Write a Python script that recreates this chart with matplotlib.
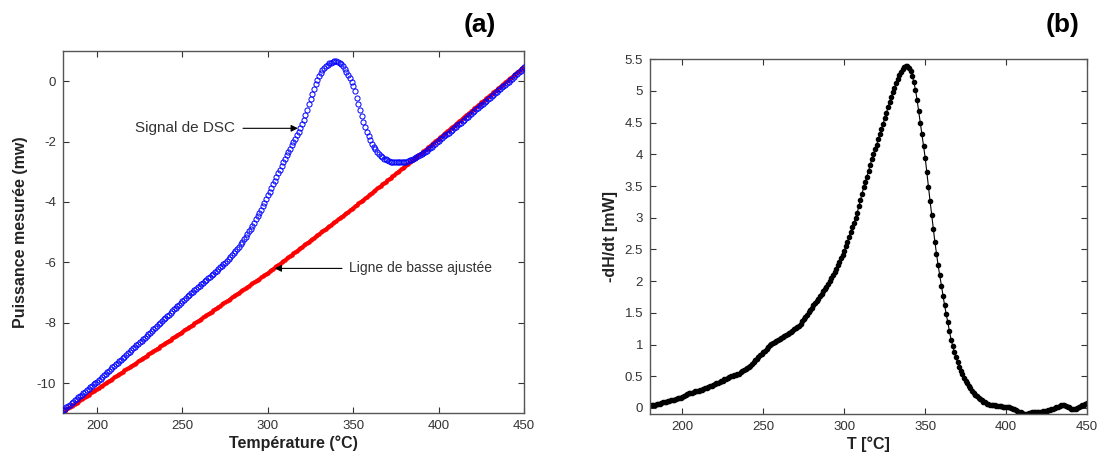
import numpy as np
import matplotlib.pyplot as plt

plt.rcParams['font.family'] = ['Liberation Sans', 'DejaVu Sans']
plt.rcParams['axes.unicode_minus'] = False

# temperature grid (°C), one reading per degree
T = np.arange(180, 451, 1)

# (a) DSC signal (mW), rows of ten degrees starting at 180
dsc = [-10.90, -10.85, -10.80, -10.76, -10.71, -10.66, -10.62, -10.57, -10.52, -10.47,
       -10.42, -10.38, -10.33, -10.28, -10.23, -10.19, -10.14, -10.09, -10.04, -10.00,
       -9.95, -9.90, -9.85, -9.79, -9.74, -9.69, -9.64, -9.59, -9.53, -9.48,
       -9.43, -9.38, -9.32, -9.27, -9.22, -9.17, -9.12, -9.06, -9.01, -8.96,
       -8.91, -8.85, -8.80, -8.75, -8.70, -8.64, -8.59, -8.54, -8.49, -8.43,
       -8.38, -8.33, -8.27, -8.22, -8.16, -8.11, -8.05, -8.00, -7.94, -7.89,
       -7.84, -7.78, -7.73, -7.67, -7.62, -7.56, -7.51, -7.45, -7.40, -7.34,
       -7.29, -7.23, -7.18, -7.13, -7.08, -7.03, -6.98, -6.93, -6.88, -6.83,
       -6.78, -6.73, -6.68, -6.63, -6.58, -6.53, -6.48, -6.43, -6.38, -6.32,
       -6.27, -6.22, -6.17, -6.12, -6.06, -6.01, -5.95, -5.89, -5.83, -5.77,
       -5.70, -5.63, -5.56, -5.48, -5.40, -5.32, -5.24, -5.15, -5.06, -4.97,
       -4.88, -4.78, -4.68, -4.58, -4.47, -4.36, -4.25, -4.14, -4.02, -3.90,
       -3.78, -3.66, -3.54, -3.42, -3.30, -3.18, -3.05, -2.93, -2.80, -2.68,
       -2.56, -2.45, -2.34, -2.23, -2.12, -2.01, -1.90, -1.79, -1.67, -1.55,
       -1.42, -1.27, -1.11, -0.94, -0.77, -0.60, -0.43, -0.26, -0.10, 0.04,
       0.16, 0.27, 0.36, 0.44, 0.50, 0.55, 0.59, 0.62, 0.64, 0.66,
       0.66, 0.65, 0.62, 0.57, 0.50, 0.42, 0.32, 0.21, 0.10, -0.02,
       -0.16, -0.34, -0.54, -0.75, -0.96, -1.16, -1.35, -1.52, -1.68, -1.82,
       -1.95, -2.07, -2.17, -2.26, -2.34, -2.41, -2.47, -2.52, -2.56, -2.59,
       -2.62, -2.64, -2.66, -2.67, -2.68, -2.69, -2.69, -2.69, -2.69, -2.68,
       -2.67, -2.66, -2.64, -2.62, -2.60, -2.57, -2.54, -2.51, -2.48, -2.44,
       -2.42, -2.38, -2.34, -2.30, -2.26, -2.21, -2.17, -2.12, -2.07, -2.02,
       -1.98, -1.93, -1.88, -1.83, -1.79, -1.75, -1.70, -1.65, -1.60, -1.56,
       -1.51, -1.46, -1.41, -1.37, -1.32, -1.27, -1.22, -1.17, -1.12, -1.08,
       -1.03, -0.98, -0.93, -0.88, -0.83, -0.78, -0.74, -0.69, -0.64, -0.59,
       -0.54, -0.49, -0.44, -0.39, -0.35, -0.30, -0.25, -0.20, -0.16, -0.11,
       -0.06, -0.01, 0.04, 0.09, 0.14, 0.19, 0.24, 0.30, 0.35, 0.41,
       0.48]

# (a) fitted baseline (mW)
baseline = [-10.95, -10.91, -10.87, -10.84, -10.80, -10.76, -10.72, -10.68, -10.65, -10.61,
            -10.57, -10.53, -10.49, -10.46, -10.42, -10.38, -10.34, -10.30, -10.27, -10.23,
            -10.19, -10.15, -10.11, -10.08, -10.04, -10.00, -9.96, -9.92, -9.89, -9.85,
            -9.81, -9.77, -9.73, -9.70, -9.66, -9.62, -9.58, -9.54, -9.51, -9.47,
            -9.43, -9.39, -9.35, -9.32, -9.28, -9.24, -9.20, -9.16, -9.13, -9.09,
            -9.05, -9.01, -8.97, -8.94, -8.90, -8.86, -8.82, -8.78, -8.75, -8.71,
            -8.67, -8.63, -8.59, -8.56, -8.52, -8.48, -8.44, -8.40, -8.37, -8.33,
            -8.29, -8.25, -8.21, -8.17, -8.13, -8.10, -8.06, -8.02, -7.98, -7.94,
            -7.90, -7.86, -7.82, -7.78, -7.74, -7.71, -7.67, -7.63, -7.59, -7.55,
            -7.51, -7.47, -7.43, -7.39, -7.35, -7.32, -7.28, -7.24, -7.20, -7.16,
            -7.12, -7.08, -7.04, -7.00, -6.96, -6.93, -6.89, -6.85, -6.81, -6.77,
            -6.73, -6.69, -6.65, -6.61, -6.57, -6.54, -6.50, -6.46, -6.42, -6.38,
            -6.34, -6.30, -6.25, -6.21, -6.17, -6.12, -6.08, -6.04, -6.00, -5.95,
            -5.91, -5.87, -5.82, -5.78, -5.74, -5.69, -5.65, -5.61, -5.57, -5.52,
            -5.48, -5.44, -5.39, -5.35, -5.31, -5.26, -5.22, -5.18, -5.14, -5.09,
            -5.05, -5.01, -4.96, -4.92, -4.88, -4.83, -4.79, -4.75, -4.71, -4.66,
            -4.62, -4.58, -4.53, -4.49, -4.45, -4.40, -4.36, -4.32, -4.28, -4.23,
            -4.19, -4.14, -4.10, -4.05, -4.01, -3.96, -3.92, -3.87, -3.83, -3.78,
            -3.74, -3.69, -3.64, -3.60, -3.55, -3.51, -3.46, -3.42, -3.37, -3.33,
            -3.28, -3.24, -3.19, -3.15, -3.10, -3.05, -3.01, -2.96, -2.92, -2.87,
            -2.83, -2.78, -2.74, -2.69, -2.65, -2.60, -2.55, -2.51, -2.46, -2.42,
            -2.37, -2.32, -2.28, -2.23, -2.18, -2.13, -2.09, -2.04, -1.99, -1.94,
            -1.90, -1.85, -1.80, -1.75, -1.70, -1.66, -1.61, -1.56, -1.51, -1.47,
            -1.42, -1.37, -1.32, -1.28, -1.23, -1.18, -1.13, -1.09, -1.04, -0.99,
            -0.94, -0.89, -0.85, -0.80, -0.75, -0.70, -0.66, -0.61, -0.56, -0.51,
            -0.47, -0.42, -0.37, -0.32, -0.28, -0.23, -0.18, -0.13, -0.09, -0.04,
            0.01, 0.06, 0.10, 0.15, 0.20, 0.25, 0.29, 0.34, 0.39, 0.44,
            0.48]

# (b) -dH/dt (mW)
dhdt = [0.04, 0.04, 0.05, 0.05, 0.06, 0.07, 0.07, 0.08, 0.09, 0.09,
        0.10, 0.11, 0.11, 0.12, 0.13, 0.13, 0.14, 0.15, 0.15, 0.16,
        0.17, 0.19, 0.20, 0.22, 0.23, 0.23, 0.24, 0.25, 0.26, 0.26,
        0.27, 0.28, 0.29, 0.30, 0.31, 0.32, 0.33, 0.34, 0.35, 0.36,
        0.38, 0.39, 0.40, 0.41, 0.42, 0.43, 0.45, 0.46, 0.48, 0.49,
        0.50, 0.51, 0.52, 0.52, 0.53, 0.54, 0.56, 0.58, 0.60, 0.61,
        0.63, 0.65, 0.67, 0.70, 0.72, 0.75, 0.77, 0.80, 0.83, 0.85,
        0.88, 0.90, 0.93, 0.96, 0.99, 1.01, 1.03, 1.04, 1.06, 1.07,
        1.09, 1.10, 1.12, 1.13, 1.15, 1.16, 1.18, 1.20, 1.22, 1.24,
        1.26, 1.28, 1.30, 1.33, 1.37, 1.40, 1.44, 1.47, 1.51, 1.55,
        1.58, 1.62, 1.65, 1.69, 1.72, 1.76, 1.80, 1.84, 1.87, 1.91,
        1.95, 2.00, 2.05, 2.10, 2.15, 2.20, 2.26, 2.31, 2.37, 2.42,
        2.48, 2.55, 2.62, 2.70, 2.78, 2.85, 2.92, 3.00, 3.08, 3.18,
        3.28, 3.38, 3.48, 3.56, 3.65, 3.74, 3.83, 3.92, 4.00, 4.08,
        4.15, 4.24, 4.32, 4.40, 4.48, 4.57, 4.65, 4.74, 4.82, 4.90,
        4.98, 5.05, 5.12, 5.19, 5.25, 5.30, 5.34, 5.38, 5.40, 5.39,
        5.36, 5.31, 5.24, 5.14, 5.02, 4.86, 4.68, 4.50, 4.32, 4.14,
        3.95, 3.72, 3.48, 3.27, 3.05, 2.83, 2.62, 2.43, 2.25, 2.09,
        1.93, 1.77, 1.62, 1.48, 1.35, 1.21, 1.08, 0.98, 0.88, 0.80,
        0.72, 0.65, 0.58, 0.53, 0.48, 0.43, 0.39, 0.35, 0.31, 0.27,
        0.24, 0.21, 0.19, 0.16, 0.14, 0.12, 0.10, 0.09, 0.07, 0.06,
        0.05, 0.05, 0.04, 0.04, 0.03, 0.03, 0.03, 0.03, 0.02, 0.02,
        0.02, 0.01, 0.01, 0.00, -0.01, -0.02, -0.03, -0.04, -0.06, -0.07,
        -0.08, -0.09, -0.10, -0.09, -0.08, -0.08, -0.07, -0.07, -0.07, -0.07,
        -0.06, -0.06, -0.06, -0.05, -0.04, -0.04, -0.03, -0.03, -0.02, -0.01,
        0.00, 0.01, 0.02, 0.03, 0.04, 0.05, 0.04, 0.03, 0.02, 0.01,
        -0.01, -0.01, -0.01, -0.01, 0.00, 0.01, 0.03, 0.04, 0.05, 0.06,
        0.08]

fig = plt.figure(figsize=(11.01, 4.54), dpi=100)
ax1 = fig.add_axes([0.0572, 0.0896, 0.4187, 0.798])
ax2 = fig.add_axes([0.5904, 0.0874, 0.3969, 0.782])

grey = '#333333'


def style(ax):
    ax.tick_params(direction='in', top=True, right=True, length=4, width=0.8,
                   labelsize=9.5, labelcolor=grey, color=grey, pad=5)
    for s in ax.spines.values():
        s.set_color('#555555')
        s.set_linewidth(1.0)


# (a)
ax1.plot(T, baseline, '-', color='red', lw=1.8, marker='o', ms=2.2,
         mfc='red', mec='red', zorder=2)
ax1.plot(T, dsc, linestyle='none', marker='o', ms=3.7,
         mfc='none', mec='blue', mew=0.7, zorder=3)
ax1.set_xlim(180, 450)
ax1.set_ylim(-11, 1)
ax1.set_xticks([200, 250, 300, 350, 400, 450])
ax1.set_yticks([-10, -8, -6, -4, -2, 0])
style(ax1)
ax1.set_xlabel('Température (°C)', fontsize=11.5, fontweight='bold', color='#222222', labelpad=2)
ax1.set_ylabel('Puissance mesurée (mw)', fontsize=11.5, fontweight='bold', color='#222222', labelpad=6)
ax1.annotate('Signal de DSC', xy=(317.6, -1.56), xytext=(222, -1.56),
             fontsize=11, color=grey, va='center', ha='left',
             arrowprops=dict(arrowstyle='-|>', color='black', lw=0.8,
                             shrinkA=4, shrinkB=0, mutation_scale=10))
ax1.annotate('Ligne de basse ajustée', xy=(304, -6.2), xytext=(347.5, -6.2),
             fontsize=10, color=grey, va='center', ha='left',
             arrowprops=dict(arrowstyle='-|>', color='black', lw=0.8,
                             shrinkA=3, shrinkB=0, mutation_scale=10))

# (b)
ax2.plot(T, dhdt, '-', color='black', lw=0.8, marker='o', ms=3.0,
         mfc='black', mec='black')
ax2.set_xlim(180, 450)
ax2.set_ylim(-0.1, 5.5)
ax2.set_xticks([200, 250, 300, 350, 400, 450])
ax2.set_yticks(np.arange(0, 5.6, 0.5))
ax2.set_yticklabels(['0', '0.5', '1', '1.5', '2', '2.5', '3', '3.5', '4', '4.5', '5', '5.5'])
style(ax2)
ax2.set_xlabel('T [°C]', fontsize=11.5, fontweight='bold', color='#222222', labelpad=2)
ax2.set_ylabel('-dH/dt [mW]', fontsize=11.5, fontweight='bold', color='#222222', labelpad=5)

fig.text(480 / 1101, 1 - 25 / 454, '(a)', fontsize=19, fontweight='bold', ha='center', va='center')
fig.text(1063 / 1101, 1 - 25 / 454, '(b)', fontsize=19, fontweight='bold', ha='center', va='center')

fig.savefig('out.png', dpi=100)
